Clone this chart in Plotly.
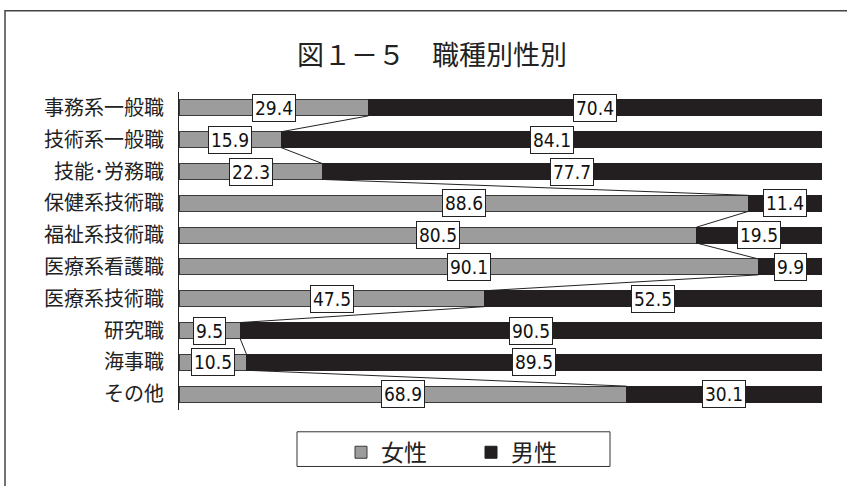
import plotly.graph_objects as go

categories = ["事務系一般職", "技術系一般職", "技能･労務職", "保健系技術職", "福祉系技術職",
              "医療系看護職", "医療系技術職", "研究職", "海事職", "その他"]
female = [29.4, 15.9, 22.3, 88.6, 80.5, 90.1, 47.5, 9.5, 10.5, 68.9]
male = [70.4, 84.1, 77.7, 11.4, 19.5, 9.9, 52.5, 90.5, 89.5, 30.1]

GRAY = "#9c9c9c"
BLACK = "#231f20"
JP = "Noto Sans CJK JP"
NUM = "Liberation Sans Narrow, DejaVu Sans Condensed, Noto Sans CJK JP"

idx = list(range(len(categories)))
fig = go.Figure()
fig.add_trace(go.Bar(y=idx, x=female, orientation="h", name="女性",
                     marker=dict(color=GRAY, line=dict(color="#3a3a3a", width=1)),
                     width=0.5))
fig.add_trace(go.Bar(y=idx, x=male, orientation="h", name="男性",
                     marker=dict(color=BLACK, line=dict(color=BLACK, width=1)),
                     width=0.5))

# normalized positions (100% stacked)
fn = [f / (f + m) * 100 for f, m in zip(female, male)]
annotations = []
for i, (f, m, fp) in enumerate(zip(female, male, fn)):
    for xc, v in ((fp / 2, f), (fp + (100 - fp) / 2, m)):
        annotations.append(dict(x=xc, y=i, xref="x", yref="y", text=f"{v:.1f}",
                                showarrow=False, font=dict(family=NUM, size=19, color="#111"),
                                bgcolor="white", bordercolor="#222", borderwidth=1, borderpad=2))

shapes = []
for i in range(len(categories) - 1):
    shapes.append(dict(type="line", xref="x", yref="y", x0=fn[i], y0=i + 0.25,
                       x1=fn[i + 1], y1=i + 1 - 0.25, line=dict(color="#222", width=1), layer="above"))

L, T, W, H = 179, 92, 643, 321
def px(p): return (p - L) / W
def py(p): return (T + H - p) / H
# outer frame
shapes.append(dict(type="rect", xref="paper", yref="paper", x0=px(5), y0=py(10),
                   x1=px(852), y1=py(492), line=dict(color="#444", width=1.5), layer="below"))
# legend box
shapes.append(dict(type="rect", xref="paper", yref="paper", x0=px(297), y0=py(435),
                   x1=px(610), y1=py(470), line=dict(color="#333", width=1), layer="below"))

fig.update_layout(
    width=847, height=486,
    margin=dict(l=L, r=847 - L - W, t=T, b=486 - T - H),
    paper_bgcolor="white", plot_bgcolor="white",
    barmode="stack", barnorm="percent",
    title=dict(text="図１－５　職種別性別", x=px(432), xref="paper", xanchor="center",
               y=1 - 56 / 486, yanchor="middle", font=dict(family=JP, size=27, color="#222")),
    xaxis=dict(range=[0, 100], showticklabels=False, showgrid=False, zeroline=False,
               ticks="", fixedrange=True),
    yaxis=dict(range=[9.5, -0.5], tickvals=idx, ticktext=categories, showgrid=False,
               zeroline=False, showline=True, linecolor="#222", linewidth=1, ticks="",
               ticklabelstandoff=10, tickfont=dict(family=JP, size=20, color="#222")),
    showlegend=True,
    legend=dict(orientation="h", x=px(341), xanchor="left", y=py(434), yanchor="top",
                bgcolor="rgba(0,0,0,0)", borderwidth=0,
                font=dict(family=JP, size=23, color="#222"),
                entrywidth=85, traceorder="normal", itemwidth=30),
    annotations=annotations, shapes=shapes,
)
fig.write_html("out.html")
